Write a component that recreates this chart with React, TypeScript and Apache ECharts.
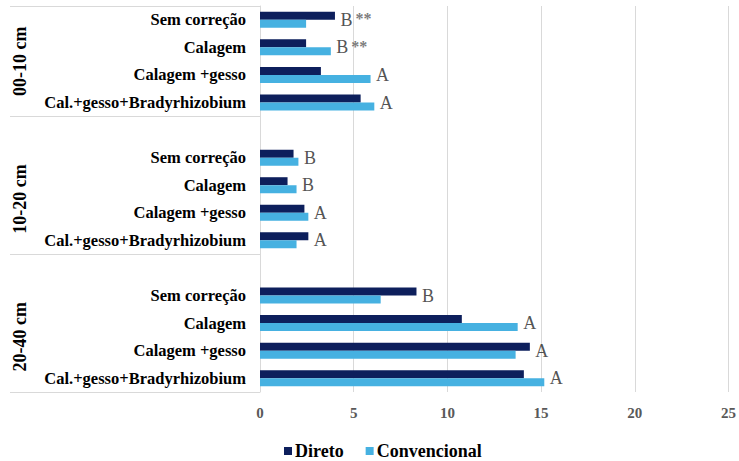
import React, { useEffect, useRef } from "react";
import * as echarts from "echarts";

const categories = [
  "Sem correção", "Calagem", "Calagem +gesso", "Cal.+gesso+Bradyrhizobium", "",
  "Sem correção", "Calagem", "Calagem +gesso", "Cal.+gesso+Bradyrhizobium", " ",
  "Sem correção", "Calagem", "Calagem +gesso", "Cal.+gesso+Bradyrhizobium",
];
const direto = [4.0, 2.46, 3.25, 5.37, null, 1.79, 1.47, 2.37, 2.58, null, 8.35, 10.77, 14.4, 14.08];
const convencional = [2.46, 3.78, 5.9, 6.1, null, 2.05, 1.95, 2.58, 1.95, null, 6.44, 13.75, 13.64, 15.17];
const letters = ["B", "B", "A", "A", "", "B", "B", "A", "A", "", "B", "A", "A", "A"];
const marks = ["**", "**", "", "", "", "", "", "", "", "", "", "", "", ""];
const groups = ["00-10 cm", "10-20 cm", "20-40 cm"];
const groupStarts = [0, 5, 10];
const groupSize = 4;

const SERIF = "Liberation Serif";

export default function App() {
  const ref = useRef<HTMLDivElement>(null);
  useEffect(() => {
    if (!ref.current) return;
    const chart = echarts.init(ref.current, undefined, { renderer: "svg" });
    const gridTop = 6;
    const gridHeight = 386;
    const gridLeft = 260;
    const band = gridHeight / categories.length;

    const lines: any[] = [];
    const boundaries = [gridTop, ...groupStarts.map((s) => gridTop + (s + groupSize) * band)];
    boundaries.forEach((y) => {
      const yy = Math.round(y) + 0.5;
      lines.push({
        type: "line",
        shape: { x1: 10, y1: yy, x2: gridLeft, y2: yy },
        style: { stroke: "#d9d9d9", lineWidth: 1 },
        silent: true,
      });
    });
    const texts = groups.map((g, i) => ({
      type: "text",
      x: 20,
      y: gridTop + (groupStarts[i] + groupSize / 2) * band,
      rotation: Math.PI / 2,
      style: {
        text: g,
        fill: "#000",
        fontFamily: SERIF,
        fontWeight: "bold",
        fontSize: 18,
        textAlign: "center",
        textVerticalAlign: "middle",
      },
      silent: true,
    }));

    const labelData = categories.map((_, i) => {
      const d = direto[i];
      const c = convencional[i];
      if (d == null || c == null) return null;
      return [Math.max(d, c), i];
    });

    chart.setOption({
      animation: false,
      textStyle: { fontFamily: SERIF },
      grid: { left: gridLeft, right: 4, top: gridTop, height: gridHeight, containLabel: false },
      legend: {
        data: ["Direto", "Convencional"],
        left: 279,
        top: 437,
        icon: "rect",
        itemWidth: 8,
        itemHeight: 8,
        itemGap: 22,
        textStyle: { fontFamily: SERIF, fontWeight: "bold", fontSize: 18, color: "#000", padding: [0, 0, 0, -2] },
      },
      xAxis: {
        type: "value",
        min: 0,
        max: 25,
        interval: 5,
        axisLine: { show: false },
        axisTick: { show: false },
        splitLine: { lineStyle: { color: "#d9d9d9", width: 1 } },
        axisLabel: { fontFamily: SERIF, fontWeight: "bold", fontSize: 15, color: "#595959", margin: 13 },
      },
      yAxis: {
        type: "category",
        inverse: true,
        data: categories,
        axisLine: { show: true, lineStyle: { color: "#d9d9d9" } },
        axisTick: { show: false },
        axisLabel: { fontFamily: SERIF, fontWeight: "bold", fontSize: 16.5, color: "#000", margin: 14, interval: 0 },
      },
      series: [
        {
          name: "Direto",
          type: "bar",
          data: direto,
          barWidth: 8,
          barGap: "0%",
          itemStyle: { color: "#0d1f5c" },
        },
        {
          name: "Convencional",
          type: "bar",
          data: convencional,
          barWidth: 8,
          barGap: "0%",
          itemStyle: { color: "#46b1e1" },
        },
        {
          name: "letras",
          type: "scatter",
          data: labelData,
          symbolSize: 1,
          itemStyle: { color: "rgba(0,0,0,0)" },
          silent: true,
          label: {
            show: true,
            position: "right",
            distance: 5,
            formatter: (p: any) => {
              const i = p.data[1];
              const m = marks[i];
              return m ? `{a|${letters[i]}} {s|${m}}` : `{a|${letters[i]}}`;
            },
            rich: {
              a: { fontFamily: SERIF, fontSize: 18, color: "#262626" },
              s: { fontFamily: SERIF, fontSize: 16, color: "#595959", fontWeight: "bold", verticalAlign: "top" },
            },
          },
        },
      ],
      graphic: [...lines, ...texts],
    });
    return () => chart.dispose();
  }, []);
  return (
    <>
      <style>{`.chart-root svg text, .chart-root svg tspan { font-family: "Liberation Serif", "Times New Roman", serif !important; }`}</style>
      <div
        ref={ref}
        className="chart-root"
        style={{ width: 739, height: 461, position: "absolute", left: 0, top: 0 }}
      />
    </>
  );
}
